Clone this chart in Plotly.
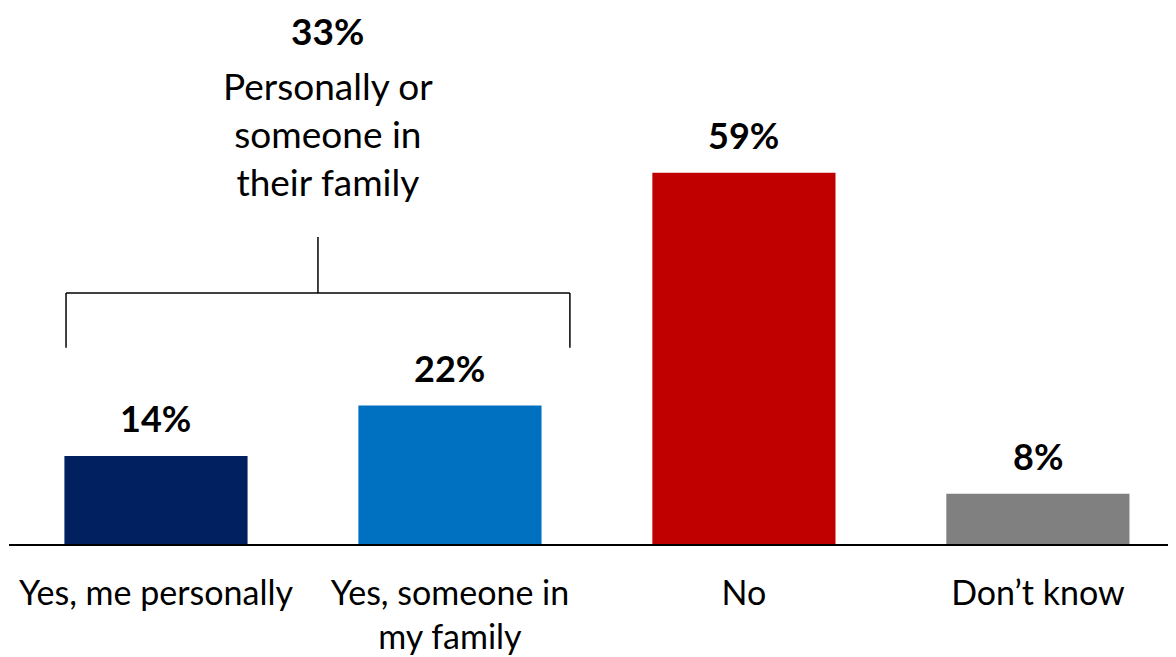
import plotly.graph_objects as go

categories = ["Yes, me personally", "Yes, someone in<br>my family", "No", "Don’t know"]
values = [14, 22, 59, 8]
colors = ["#002060", "#0070C0", "#C00000", "#808080"]

net_value = 33
net_label = "Personally or<br>someone in<br>their family"

FONT = "Lato, Carlito, Calibri, sans-serif"

fig = go.Figure(
    go.Bar(
        x=list(range(len(categories))),
        y=values,
        marker=dict(color=colors, line=dict(width=0)),
        width=0.623,
        hoverinfo="skip",
    )
)

# value labels above bars
for i, v in enumerate(values):
    fig.add_annotation(
        x=i, y=v, text=f"<b>{v}%</b>", showarrow=False,
        yanchor="bottom", yshift=14,
        font=dict(size=36, color="black", family=FONT),
    )

# bracket over the two "yes" bars
bl, br, bx = -0.306, 1.408, 0.551
y_low, y_mid, y_top = 31.2, 39.9, 48.8
line = dict(color="black", width=1.5)
fig.add_shape(type="line", x0=bl, x1=bl, y0=y_low, y1=y_mid, line=line)
fig.add_shape(type="line", x0=bl, x1=br, y0=y_mid, y1=y_mid, line=line)
fig.add_shape(type="line", x0=br, x1=br, y0=y_low, y1=y_mid, line=line)
fig.add_shape(type="line", x0=bx, x1=bx, y0=y_mid, y1=y_top, line=line)

fig.add_annotation(
    x=0.585, y=81.7, text=f"<b>{net_value}%</b>",
    showarrow=False, yanchor="middle",
    font=dict(size=37, color="black", family=FONT),
)
fig.add_annotation(
    x=0.585, y=65.2, text=net_label,
    showarrow=False, yanchor="middle",
    font=dict(size=37, color="black", family=FONT),
)

fig.update_xaxes(
    range=[-0.5, 3.497],
    tickmode="array",
    tickvals=list(range(len(categories))),
    ticktext=categories,
    showline=True, linecolor="black", linewidth=2,
    showgrid=False, zeroline=False,
    ticks="", ticklabelstandoff=18,
    tickfont=dict(size=34, color="black", family=FONT),
)
fig.update_yaxes(range=[0, 85.2], visible=False)

fig.update_layout(
    width=1176, height=649,
    margin=dict(l=1, r=0, t=0, b=113),
    plot_bgcolor="white", paper_bgcolor="white",
    showlegend=False,
    font=dict(family=FONT, color="black"),
)

fig.write_html("out.html")
